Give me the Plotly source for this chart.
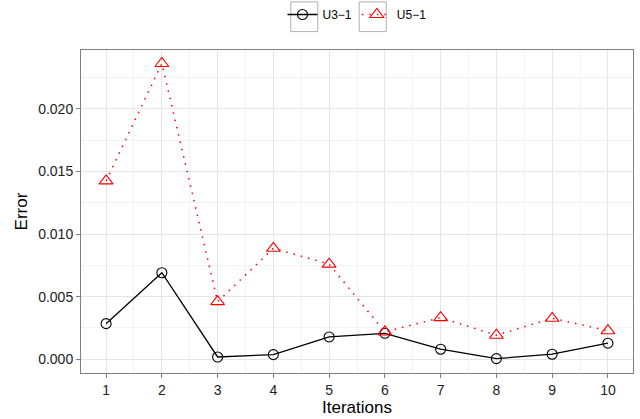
import plotly.graph_objects as go

iterations = [1, 2, 3, 4, 5, 6, 7, 8, 9, 10]
u3_1 = [0.00284, 0.00691, 0.00018, 0.00037, 0.00178, 0.00207, 0.00080, 0.00005, 0.00040, 0.00128]
u5_1 = [0.01425, 0.02362, 0.00460, 0.00886, 0.00760, 0.00218, 0.00332, 0.00192, 0.00327, 0.00228]
y_ticks = [0.0, 0.005, 0.010, 0.015, 0.020]
y_tick_labels = ["0.000", "0.005", "0.010", "0.015", "0.020"]

fig = go.Figure()
fig.add_trace(go.Scatter(
    x=iterations, y=u3_1, name="U3\u22121", mode="lines+markers",
    line=dict(color="black", width=1.3, dash="solid"),
    marker=dict(symbol="circle-open", size=10, color="black", line=dict(width=1.1)),
))
fig.add_trace(go.Scatter(
    x=iterations, y=u5_1, name="U5\u22121", mode="lines+markers",
    line=dict(color="#ff0000", width=1.5, dash="1.5px,6px"),
    marker=dict(symbol="triangle-up-open", size=12, color="#ff0000", line=dict(width=1.1)),
))

# legend key boxes (paper coordinates)
for x0, x1 in [(0.380, 0.429), (0.504, 0.553)]:
    fig.add_shape(type="rect", xref="paper", yref="paper", x0=x0, x1=x1,
                  y0=1.057, y1=1.149, line=dict(color="#b0b0b0", width=1),
                  fillcolor="rgba(0,0,0,0)", layer="above")

fig.update_layout(
    width=640, height=419,
    margin=dict(l=81, r=7, t=50, b=46, autoexpand=False),
    paper_bgcolor="white", plot_bgcolor="white",
    font=dict(family="Liberation Sans, Arial, sans-serif", size=14, color="#222222"),
    showlegend=True,
    legend=dict(orientation="h", x=0.5, xanchor="center", y=1.0, yanchor="top",
                yref="container", font=dict(size=12, color="black"),
                bgcolor="rgba(0,0,0,0)", itemwidth=30, tracegroupgap=0),
)

fig.update_xaxes(
    range=[0.55, 10.45], tickmode="array", tickvals=iterations,
    ticktext=[str(i) for i in iterations],
    showgrid=True, gridcolor="#e5e5e5", gridwidth=1,
    minor=dict(tickmode="array", tickvals=[i + 0.5 for i in iterations[:-1]],
               showgrid=True, gridcolor="#f3f3f3", gridwidth=1),
    zeroline=False, showline=True, linecolor="#7f7f7f", linewidth=1, mirror=True,
    ticks="outside", ticklen=4, tickcolor="#7f7f7f", automargin=False,
    title=dict(text="Iterations", font=dict(size=17, color="black"), standoff=2),
    tickfont=dict(size=14, color="#222222"),
)
fig.update_yaxes(
    range=[-0.0011, 0.0247], tickmode="array", tickvals=y_ticks, ticktext=y_tick_labels,
    showgrid=True, gridcolor="#e5e5e5", gridwidth=1,
    minor=dict(tickmode="array", tickvals=[0.0025, 0.0075, 0.0125, 0.0175, 0.0225],
               showgrid=True, gridcolor="#f3f3f3", gridwidth=1),
    zeroline=False, showline=True, linecolor="#7f7f7f", linewidth=1, mirror=True,
    ticks="outside", ticklen=4, tickcolor="#7f7f7f", automargin=False,
    title=dict(text="Error", font=dict(size=17, color="black"), standoff=6),
    tickfont=dict(size=14, color="#222222"),
)

fig.write_html("out.html", config={"displayModeBar": False},
               post_script="document.body.style.margin='0';")
